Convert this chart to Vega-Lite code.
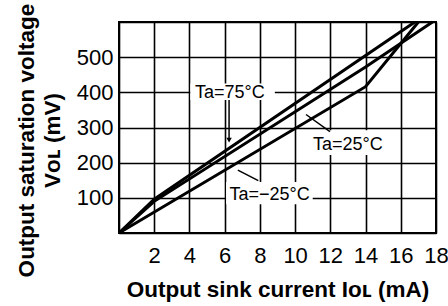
{
  "$schema": "https://vega.github.io/schema/vega-lite/v6.json",
  "width": 317,
  "height": 211,
  "autosize": {"type": "none"},
  "padding": {"left": 119, "top": 22, "right": 12, "bottom": 73},
  "background": "white",
  "config": {
    "view": {"stroke": "black", "strokeWidth": 2},
    "font": "Liberation Sans",
    "axis": {
      "gridColor": "black", "gridWidth": 1.6, "gridOpacity": 1,
      "domain": false, "ticks": false,
      "labelFont": "Liberation Sans", "labelFontSize": 22, "labelColor": "black",
      "titleFont": "Liberation Sans", "titleFontSize": 22.5, "titleFontWeight": "bold", "titleColor": "black"
    }
  },
  "datasets": {
    "curves": [
      {"ta": "75", "x": 0, "y": 0}, {"ta": "75", "x": 2, "y": 96}, {"ta": "75", "x": 16.8, "y": 600},
      {"ta": "25", "x": 0, "y": 0}, {"ta": "25", "x": 2, "y": 90}, {"ta": "25", "x": 14, "y": 472}, {"ta": "25", "x": 17.8, "y": 600},
      {"ta": "-25", "x": 0, "y": 0}, {"ta": "-25", "x": 14, "y": 416}, {"ta": "-25", "x": 17, "y": 600}
    ],
    "boxes": [
      {"x": 4.05, "x2": 8.85, "y": 378, "y2": 425},
      {"x": 10.95, "x2": 15.0, "y": 222, "y2": 292},
      {"x": 6.08, "x2": 11.0, "y": 82, "y2": 145}
    ],
    "pointers": [
      {"x": 6.25, "y": 378, "x2": 6.25, "y2": 266},
      {"x": 11.98, "y": 288, "x2": 10.62, "y2": 337},
      {"x": 7.91, "y": 149, "x2": 6.75, "y2": 179}
    ],
    "heads": [{"x": 6.25, "y": 264}],
    "labels": [
      {"x": 6.3, "y": 399, "t": "Ta=75°C"},
      {"x": 13.0, "y": 251, "t": "Ta=25°C"},
      {"x": 8.55, "y": 107, "t": "Ta=−25°C"}
    ]
  },
  "encoding": {
    "x": {"field": "x", "type": "quantitative", "scale": {"domain": [0, 18], "nice": false, "zero": false},
          "axis": {"values": [0, 2, 4, 6, 8, 10, 12, 14, 16, 18], "labelExpr": "datum.value == 0 ? '' : datum.label", "labelPadding": 12, "labelFlush": false, "labelOverlap": false,
                   "title": "Output sink current Iᴏʟ (mA)", "titleBaseline": "alphabetic", "titleY": 63}},
    "y": {"field": "y", "type": "quantitative", "scale": {"domain": [0, 600], "nice": false, "zero": false},
          "axis": {"values": [0, 100, 200, 300, 400, 500, 600], "labelExpr": "datum.value == 0 || datum.value == 600 ? '' : datum.label", "labelPadding": 6, "labelFlush": false, "labelOverlap": false,
                   "title": ["Output saturation voltage", "Vᴏʟ (mV)"], "titleAngle": -90, "titleBaseline": "alphabetic", "titleAlign": "center", "titleX": -86, "titleY": 118, "titleLineHeight": 26}}
  },
  "layer": [
    {
      "data": {"name": "boxes"},
      "mark": {"type": "rect", "fill": "white", "stroke": null},
      "encoding": {
        "x2": {"field": "x2"},
        "y2": {"field": "y2"}
      }
    },
    {
      "data": {"name": "curves"},
      "mark": {"type": "line", "color": "black", "strokeWidth": 3},
      "encoding": {
        "detail": {"field": "ta"},
        "order": {"field": "x", "type": "quantitative"}
      }
    },
    {
      "data": {"name": "pointers"},
      "mark": {"type": "rule", "color": "black", "strokeWidth": 1.5},
      "encoding": {
        "x2": {"field": "x2"},
        "y2": {"field": "y2"}
      }
    },
    {
      "data": {"name": "heads"},
      "mark": {"type": "point", "shape": "triangle-down", "filled": true, "color": "black", "size": 30, "opacity": 1},
      "encoding": {}
    },
    {
      "data": {"name": "labels"},
      "mark": {"type": "text", "font": "Liberation Sans", "fontSize": 18, "color": "black", "align": "center", "baseline": "middle"},
      "encoding": {
        "text": {"field": "t"}
      }
    }
  ]
}
